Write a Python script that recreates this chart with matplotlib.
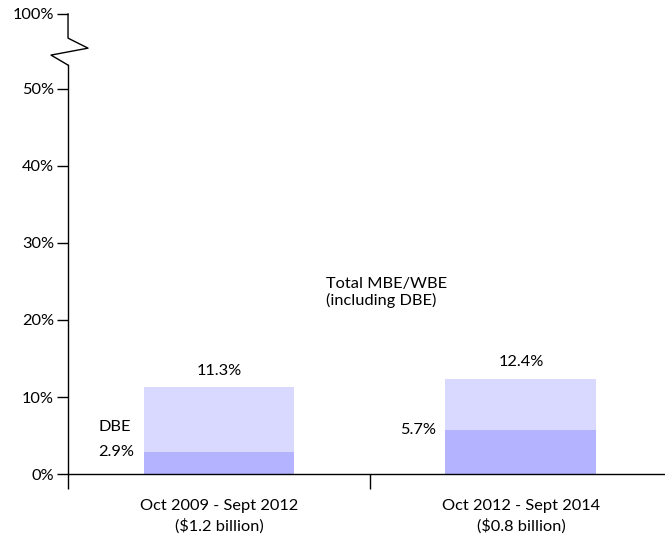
import numpy as np
import matplotlib
matplotlib.use("Agg")
import matplotlib.pyplot as plt
import matplotlib.transforms as mtransforms

plt.rcParams['font.family'] = ['Lato', 'DejaVu Sans']

# data
periods = ["Oct 2009 - Sept 2012\n($1.2 billion)", "Oct 2012 - Sept 2014\n($0.8 billion)"]
total_mwbe = [11.3, 12.4]
dbe = [2.9, 5.7]

tick_vals = [0, 10, 20, 30, 40, 50]
tick_labels = ["0%", "10%", "20%", "30%", "40%", "50%"]
top_val = 59.74  # position where "100%" sits after the axis break

light = "#D9D9FF"
dark = "#B3B3FF"
fs = 11.8

fig = plt.figure(figsize=(6.65, 5.37), dpi=100)
ax = fig.add_axes([0.1023, 0.1173, 0.8977, 0.8567])

x = np.arange(len(periods)) + 0.5
ax.bar(x, dbe, width=0.5, color=dark, zorder=2)
ax.bar(x, np.array(total_mwbe) - np.array(dbe), bottom=dbe, width=0.5, color=light, zorder=2)

ax.set_xlim(0, 1.977)
ax.set_ylim(0, top_val)

# axes look
for s in ["top", "right", "left"]:
    ax.spines[s].set_visible(False)
ax.spines["bottom"].set_color("black")
ax.spines["bottom"].set_linewidth(1)

ax.set_yticks(tick_vals + [top_val])
ax.set_yticklabels(tick_labels + ["100%"], fontsize=fs)
ax.tick_params(axis="y", direction="out", length=8, width=1, pad=2)

ax.set_xticks([0, 1])
ax.set_xticklabels([])
ax.tick_params(axis="x", direction="out", length=11, width=1)
for xi, lab in zip(x, periods):
    ax.text(xi, -3.2, lab, ha="center", va="top", fontsize=fs,
            linespacing=1.5, transform=ax.transData, clip_on=False)

# broken left axis with zigzag
tr = mtransforms.blended_transform_factory(ax.transAxes, ax.transData)
ax.plot([0, 0], [0, 53.1], color="black", lw=1, transform=tr, clip_on=False)
ax.plot([0, 0, 0.0335, -0.0285, 0, 0],
        [top_val, 56.6, 55.3, 54.4, 53.1, 53.1],
        color="black", lw=1, transform=tr, clip_on=False)

# labels
for xi, t in zip(x, total_mwbe):
    ax.text(xi, t + 1.2, f"{t}%", ha="center", va="bottom", fontsize=fs)
ax.text(0.1, dbe[0], f"{dbe[0]}%", ha="left", va="center", fontsize=fs)
ax.text(0.1, dbe[0] + 3.2, "DBE", ha="left", va="center", fontsize=fs)
ax.text(1.22, dbe[1], f"{dbe[1]}%", ha="right", va="center", fontsize=fs)
ax.text(0.854, 25.6, "Total MBE/WBE\n(including DBE)", ha="left", va="top", fontsize=fs,
        linespacing=1.15)

fig.savefig("out.png", dpi=100)
